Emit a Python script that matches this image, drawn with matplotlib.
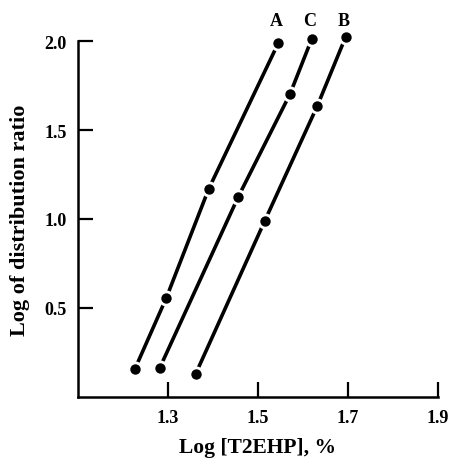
import matplotlib
matplotlib.use("Agg")
import matplotlib.pyplot as plt

# Data
series_names = ["A", "C", "B"]
x_A = [1.227, 1.297, 1.391, 1.546]
y_A = [0.155, 0.556, 1.168, 1.99]
x_C = [1.282, 1.457, 1.572, 1.620]
y_C = [0.160, 1.125, 1.703, 2.011]
x_B = [1.362, 1.516, 1.633, 1.696]
y_B = [0.127, 0.990, 1.638, 2.026]
x_ticks = [1.3, 1.5, 1.7, 1.9]
y_ticks = [0.5, 1.0, 1.5, 2.0]

plt.rcParams['font.family'] = ['Liberation Serif', 'DejaVu Serif']
plt.rcParams['font.weight'] = 'bold'

fig = plt.figure(figsize=(4.52, 4.64), dpi=100)
ax = fig.add_axes([0.172, 0.143, 0.796, 0.766])

for xs, ys, name in [(x_A, y_A, "A"), (x_C, y_C, "C"), (x_B, y_B, "B")]:
    ax.plot(xs, ys, color='black', lw=2.6, marker='o', markersize=9.5,
            markerfacecolor='black', markeredgecolor='white', markeredgewidth=2.0,
            clip_on=False, solid_capstyle='butt')
    ax.text(xs[-1] - 0.004, 2.115, name, ha='center', va='center',
            fontsize=13, fontweight='bold')

ax.set_xlim(1.1, 1.9)
ax.set_ylim(0.0, 2.0)
ax.set_xticks(x_ticks)
ax.set_yticks(y_ticks)
ax.set_xticklabels([f"{v:.1f}" for v in x_ticks], fontsize=13, fontweight='bold')
ax.set_yticklabels([f"{v:.1f}" for v in y_ticks], fontsize=13, fontweight='bold')
ax.tick_params(direction='in', length=11, width=1.6, pad=8)
ax.tick_params(axis='x', pad=9)
for s in ['top', 'right']:
    ax.spines[s].set_visible(False)
for s in ['left', 'bottom']:
    ax.spines[s].set_linewidth(1.8)

ax.set_xlabel("Log [T2EHP], %", fontsize=15.5, fontweight='bold', labelpad=8)
ax.set_ylabel("Log of distribution ratio", fontsize=16, fontweight='bold', labelpad=10)

fig.savefig("out.png", dpi=100)
